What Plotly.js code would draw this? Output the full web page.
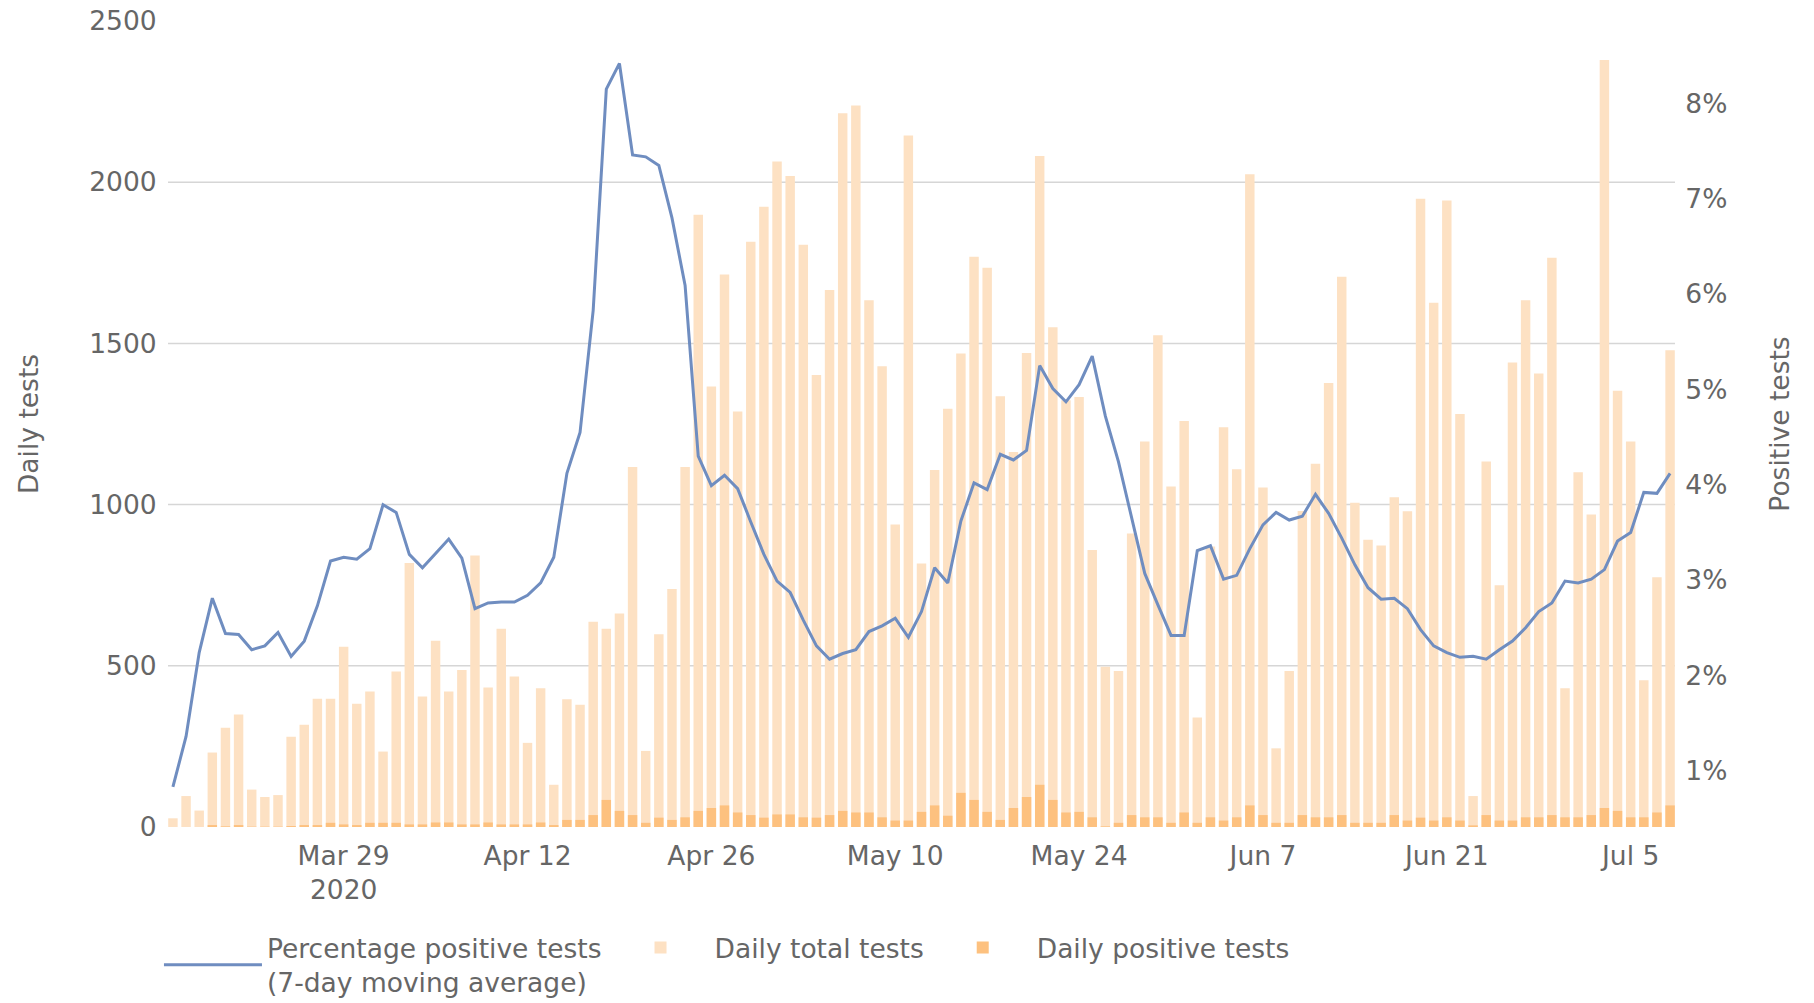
<!DOCTYPE html>
<html>
<head>
<meta charset="utf-8">
<script src="https://cdn.plot.ly/plotly-3.0.1.min.js"></script>
<style>
  html, body { margin: 0; padding: 0; background: #ffffff; }
  #chart { width: 1814px; height: 1003px; }
</style>
</head>
<body>
<div id="chart"></div>
<script>
// ---- data (daily, starting 2020-03-16) ----
const startDate = '2020-03-16';

const dailyTotalTests = [
  27, 96, 51, 231, 308, 349, 116, 93, 99, 280,
  317, 398, 398, 559, 382, 420, 234, 482, 819, 405,
  578, 420, 487, 842, 433, 615, 467, 261, 430, 131,
  396, 379, 637, 615, 662, 1117, 236, 598, 738, 1117,
  1899, 1366, 1714, 1289, 1815, 1924, 2064, 2019, 1806, 1402,
  1666, 2214, 2238, 1634, 1429, 938, 2145, 817, 1107, 1297,
  1469, 1769, 1735, 1336, 1163, 1470, 2081, 1550, 1324, 1334,
  859, 497, 484, 910, 1196, 1525, 1056, 1259, 340, 870,
  1240, 1110, 2025, 1053, 244, 484, 980, 1127, 1377, 1707,
  1006, 891, 873, 1023, 979, 1949, 1626, 1943, 1281, 96,
  1134, 750, 1441, 1634, 1407, 1766, 430, 1100, 969, 2379,
  1353, 1196, 455, 775, 1479
];

const dailyPositiveTests = [
  0, 0, 0, 6, 2, 6, 1, 1, 1, 3,
  6, 6, 13, 8, 6, 13, 13, 13, 8, 8,
  14, 14, 8, 8, 14, 8, 8, 8, 14, 6,
  22, 22, 37, 84, 50, 37, 13, 29, 22, 30,
  50, 59, 67, 45, 37, 29, 39, 39, 30, 29,
  37, 50, 45, 45, 30, 20, 20, 47, 67, 35,
  106, 84, 47, 22, 59, 93, 131, 84, 45, 47,
  30, 2, 13, 37, 30, 30, 13, 45, 13, 30,
  20, 30, 67, 37, 13, 13, 37, 30, 30, 37,
  13, 13, 13, 37, 20, 29, 20, 30, 20, 5,
  37, 20, 20, 30, 30, 37, 30, 30, 37, 59,
  50, 30, 30, 45, 67
];

const pctPositive7d = [
  0.83, 1.36, 2.24, 2.81, 2.44, 2.43, 2.27, 2.31, 2.45, 2.20,
  2.36, 2.73, 3.20, 3.24, 3.22, 3.33, 3.79, 3.71, 3.27, 3.13,
  3.28, 3.43, 3.23, 2.70, 2.76, 2.77, 2.77, 2.84, 2.97, 3.24,
  4.12, 4.55, 5.83, 8.15, 8.42, 7.46, 7.44, 7.35, 6.80, 6.09,
  4.30, 3.99, 4.10, 3.96, 3.61, 3.27, 2.99, 2.87, 2.58, 2.31,
  2.17, 2.23, 2.27, 2.46, 2.52, 2.60, 2.40, 2.67, 3.13, 2.97,
  3.62, 4.02, 3.95, 4.32, 4.26, 4.36, 5.25, 5.01, 4.87, 5.05,
  5.35, 4.72, 4.24, 3.64, 3.07, 2.74, 2.42, 2.42, 3.31, 3.36,
  3.01, 3.05, 3.33, 3.58, 3.71, 3.63, 3.67, 3.90, 3.70, 3.44,
  3.16, 2.92, 2.80, 2.81, 2.70, 2.48, 2.31, 2.24, 2.19, 2.20,
  2.17, 2.27, 2.36, 2.50, 2.67, 2.76, 2.99, 2.97, 3.01, 3.11,
  3.41, 3.50, 3.92, 3.91, 4.12
];

const xTickVals = ['2020-03-29', '2020-04-12', '2020-04-26', '2020-05-10', '2020-05-24', '2020-06-07', '2020-06-21', '2020-07-05'];
const xTickText = ['Mar 29<br>2020', 'Apr 12', 'Apr 26', 'May 10', 'May 24', 'Jun 7', 'Jun 21', 'Jul 5'];
const yTickVals = [0, 500, 1000, 1500, 2000, 2500];
const yGridVals = [500, 1000, 1500, 2000];
const y2TickVals = [1, 2, 3, 4, 5, 6, 7, 8];
const y2TickText = ['1%', '2%', '3%', '4%', '5%', '6%', '7%', '8%'];

// consecutive daily dates
const dates = [];
(function () {
  const d0 = new Date(startDate + 'T00:00:00Z');
  for (let i = 0; i < dailyTotalTests.length; i++) {
    const d = new Date(d0.getTime() + i * 86400000);
    dates.push(d.toISOString().slice(0, 10));
  }
})();

const FONT = 'DejaVu Sans, Verdana, sans-serif';
const TEXT = '#666666';
const FS = 26.5;

const traces = [
  {
    type: 'scatter', mode: 'lines',
    name: 'Percentage positive tests<br>(7-day moving average)',
    x: dates, y: pctPositive7d, yaxis: 'y2',
    line: { color: '#6f8dc0', width: 3 },
    hoverinfo: 'skip'
  },
  {
    type: 'bar', name: 'Daily total tests',
    x: dates, y: dailyTotalTests,
    marker: { color: 'rgb(253,225,195)', line: { width: 0 } },
    hoverinfo: 'skip'
  },
  {
    type: 'bar', name: 'Daily positive tests',
    x: dates, y: dailyPositiveTests,
    marker: { color: 'rgb(253,193,127)', line: { width: 0 } },
    hoverinfo: 'skip'
  }
];

const layout = {
  width: 1814, height: 1003,
  paper_bgcolor: '#ffffff', plot_bgcolor: '#ffffff',
  margin: { l: 168, r: 139, t: 21, b: 176, autoexpand: false },
  font: { family: FONT, size: FS, color: TEXT },
  barmode: 'overlay', bargap: 0.28,
  showlegend: true,
  legend: {
    orientation: 'h', x: -0.006, xanchor: 'left', y: -0.12, yanchor: 'top',
    font: { family: FONT, size: FS, color: TEXT },
    itemwidth: 98, valign: 'middle', traceorder: 'normal',
    bgcolor: 'rgba(0,0,0,0)'
  },
  xaxis: {
    type: 'date',
    range: ['2020-03-15 15:00', '2020-07-08 09:00'],
    tickmode: 'array', tickvals: xTickVals, ticktext: xTickText,
    ticks: 'outside', ticklen: 5, tickcolor: 'rgba(0,0,0,0)',
    showgrid: false, zeroline: false, showline: false,
    tickfont: { family: FONT, size: FS, color: TEXT },
    automargin: false
  },
  yaxis: {
    range: [0, 2500],
    tickmode: 'array', tickvals: yTickVals,
    ticks: 'outside', ticklen: 5, tickcolor: 'rgba(0,0,0,0)',
    showgrid: false, zeroline: false, showline: false,
    tickfont: { family: FONT, size: FS, color: TEXT },
    title: { text: 'Daily tests', font: { family: FONT, size: FS, color: TEXT }, standoff: 42 },
    automargin: false
  },
  yaxis2: {
    overlaying: 'y', side: 'right',
    range: [0.41, 8.865],
    tickmode: 'array', tickvals: y2TickVals, ticktext: y2TickText,
    ticks: 'outside', ticklen: 4, tickcolor: 'rgba(0,0,0,0)',
    showgrid: false, zeroline: false, showline: false,
    tickfont: { family: FONT, size: FS, color: TEXT },
    title: { text: 'Positive tests', font: { family: FONT, size: FS, color: TEXT }, standoff: 44 },
    automargin: false
  },
  shapes: yGridVals.map(v => ({
    type: 'line', xref: 'paper', x0: 0, x1: 1, yref: 'y', y0: v, y1: v,
    line: { color: '#d6d6d6', width: 1.5 }, layer: 'below'
  }))
};

Plotly.newPlot('chart', traces, layout, { displayModeBar: false, staticPlot: true });
</script>
</body>
</html>
